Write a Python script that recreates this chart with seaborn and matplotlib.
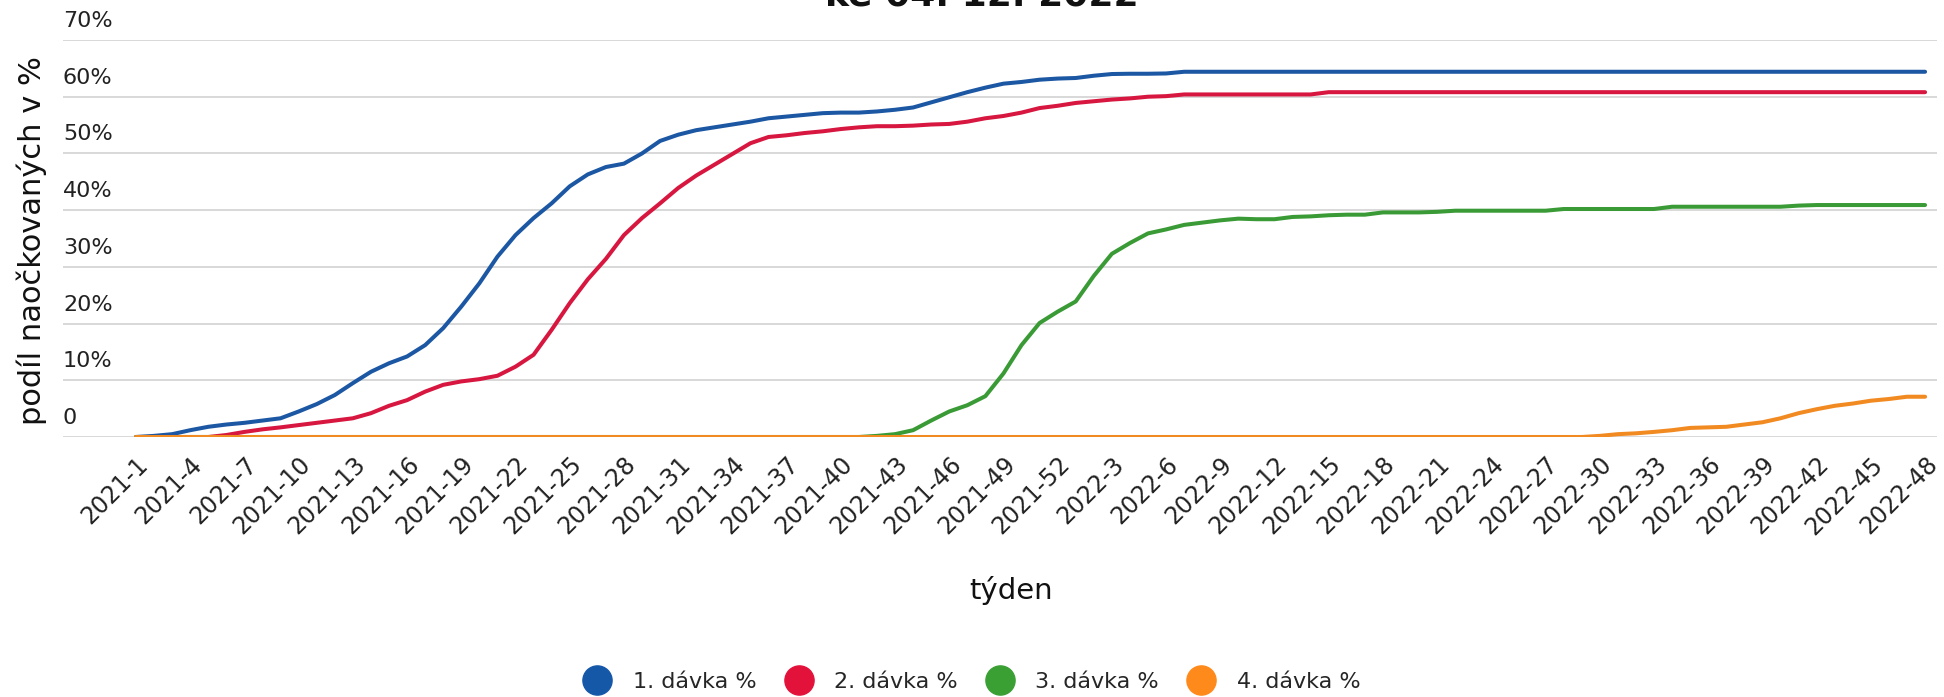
import matplotlib
matplotlib.use("Agg")
import matplotlib.pyplot as plt
import matplotlib.transforms as mtransforms
from matplotlib.lines import Line2D
import seaborn as sns
import pandas as pd

# ---------------- data ----------------
years_weeks = [(2021, 52), (2022, 48)]
weeks = [f"{y}-{w}" for y, n in years_weeks for w in range(1, n + 1)]

series_names = ["1. dávka %", "2. dávka %", "3. dávka %", "4. dávka %"]

dose1 = [0.0, 0.2, 0.5, 1.2, 1.8, 2.2, 2.5, 2.9, 3.3, 4.5,
         5.8, 7.4, 9.5, 11.5, 13.0, 14.2, 16.2, 19.2, 23.0, 27.1,
         31.8, 35.6, 38.6, 41.2, 44.2, 46.3, 47.6, 48.2, 50.0, 52.2,
         53.3, 54.1, 54.6, 55.1, 55.6, 56.2, 56.5, 56.8, 57.1, 57.2,
         57.2, 57.4, 57.7, 58.1, 59.0, 59.9, 60.8, 61.6, 62.3, 62.6,
         63.0, 63.2, 63.3, 63.7, 64.0, 64.05, 64.05, 64.1, 64.4, 64.4,
         64.4, 64.4, 64.4, 64.4, 64.4, 64.4, 64.4, 64.4, 64.4, 64.4,
         64.4, 64.4, 64.4, 64.4, 64.4, 64.4, 64.4, 64.4, 64.4, 64.4,
         64.4, 64.4, 64.4, 64.4, 64.4, 64.4, 64.4, 64.4, 64.4, 64.4,
         64.4, 64.4, 64.4, 64.4, 64.4, 64.4, 64.4, 64.4, 64.4, 64.4]

dose2 = [0.0, 0.0, 0.0, 0.0, 0.0, 0.35, 0.9, 1.35, 1.7, 2.1,
         2.5, 2.9, 3.3, 4.2, 5.5, 6.5, 8.0, 9.2, 9.8, 10.2,
         10.8, 12.4, 14.5, 18.9, 23.6, 27.8, 31.4, 35.6, 38.6, 41.2,
         43.9, 46.1, 48.0, 49.9, 51.8, 52.9, 53.2, 53.6, 53.9, 54.3,
         54.6, 54.8, 54.8, 54.9, 55.1, 55.2, 55.6, 56.2, 56.6, 57.2,
         58.0, 58.4, 58.9, 59.2, 59.5, 59.7, 60.0, 60.1, 60.4, 60.4,
         60.4, 60.4, 60.4, 60.4, 60.4, 60.4, 60.8, 60.8, 60.8, 60.8,
         60.8, 60.8, 60.8, 60.8, 60.8, 60.8, 60.8, 60.8, 60.8, 60.8,
         60.8, 60.8, 60.8, 60.8, 60.8, 60.8, 60.8, 60.8, 60.8, 60.8,
         60.8, 60.8, 60.8, 60.8, 60.8, 60.8, 60.8, 60.8, 60.8, 60.8]

dose3 = [0.0, 0.0, 0.0, 0.0, 0.0, 0.0, 0.0, 0.0, 0.0, 0.0,
         0.0, 0.0, 0.0, 0.0, 0.0, 0.0, 0.0, 0.0, 0.0, 0.0,
         0.0, 0.0, 0.0, 0.0, 0.0, 0.0, 0.0, 0.0, 0.0, 0.0,
         0.0, 0.0, 0.0, 0.0, 0.0, 0.0, 0.0, 0.0, 0.0, 0.0,
         0.0, 0.2, 0.5, 1.2, 2.9, 4.5, 5.6, 7.2, 11.2, 16.2,
         20.1, 22.1, 23.9, 28.4, 32.3, 34.2, 35.9, 36.6, 37.4, 37.8,
         38.2, 38.5, 38.4, 38.4, 38.8, 38.9, 39.1, 39.2, 39.2, 39.6,
         39.6, 39.6, 39.7, 39.9, 39.9, 39.9, 39.9, 39.9, 39.9, 40.2,
         40.2, 40.2, 40.2, 40.2, 40.2, 40.6, 40.6, 40.6, 40.6, 40.6,
         40.6, 40.6, 40.8, 40.9, 40.9, 40.9, 40.9, 40.9, 40.9, 40.9]

dose4 = [0.0, 0.0, 0.0, 0.0, 0.0, 0.0, 0.0, 0.0, 0.0, 0.0,
         0.0, 0.0, 0.0, 0.0, 0.0, 0.0, 0.0, 0.0, 0.0, 0.0,
         0.0, 0.0, 0.0, 0.0, 0.0, 0.0, 0.0, 0.0, 0.0, 0.0,
         0.0, 0.0, 0.0, 0.0, 0.0, 0.0, 0.0, 0.0, 0.0, 0.0,
         0.0, 0.0, 0.0, 0.0, 0.0, 0.0, 0.0, 0.0, 0.0, 0.0,
         0.0, 0.0, 0.0, 0.0, 0.0, 0.0, 0.0, 0.0, 0.0, 0.0,
         0.0, 0.0, 0.0, 0.0, 0.0, 0.0, 0.0, 0.0, 0.0, 0.0,
         0.0, 0.0, 0.0, 0.0, 0.0, 0.0, 0.0, 0.0, 0.0, 0.0,
         0.0, 0.2, 0.5, 0.65, 0.9, 1.2, 1.6, 1.7, 1.8, 2.2,
         2.6, 3.3, 4.2, 4.9, 5.5, 5.9, 6.4, 6.7, 7.1, 7.1]

y_ticks = [0, 10, 20, 30, 40, 50, 60, 70]
y_tick_labels = ["0", "10%", "20%", "30%", "40%", "50%", "60%", "70%"]

line_colors = ["#1c57a3", "#d7173f", "#3a9b36", "#f28a22"]
legend_colors = ["#1558a8", "#e3123b", "#3aa034", "#ff8a1c"]

title_text = "ke 04. 12. 2022"
x_label = "týden"
y_label = "podíl naočkovaných v %"

# ---------------- figure ----------------
sns.set_theme(style="white")
plt.rcParams["font.family"] = ["DejaVu Sans"]

W, H = 1944, 697
fig = plt.figure(figsize=(W / 100, H / 100), dpi=100)
ax = fig.add_axes([63 / W, 260 / H, 1874 / W, 397 / H])

df = pd.DataFrame({
    "week": weeks * 4,
    "value": dose1 + dose2 + dose3 + dose4,
    "series": sum([[s] * len(weeks) for s in series_names], []),
})

sns.lineplot(data=df, x="week", y="value", hue="series", hue_order=series_names,
             palette=line_colors, linewidth=2.9, legend=False, ax=ax, sort=False)

ax.set_ylim(0, 70)
ax.set_xlim(-4.04, 99.66)

# grid
ax.set_yticks(y_ticks)
ax.yaxis.grid(True, color="#d2d2d2", linewidth=1.2)
ax.xaxis.grid(False)
ax.set_axisbelow(True)
for sp in ax.spines.values():
    sp.set_visible(False)
ax.tick_params(axis="y", length=0, labelleft=False)

# y tick labels placed above grid lines
trans = mtransforms.offset_copy(ax.get_yaxis_transform(), fig=fig, x=0, y=9, units="dots")
for v, lab in zip(y_ticks, y_tick_labels):
    ax.text(0.0, v, lab, transform=trans, ha="left", va="bottom",
            fontsize=16, color="#222222")

# x ticks
ax.set_xticks(list(range(0, len(weeks), 3)))
ax.set_xticklabels(weeks[::3], rotation=45, ha="right", rotation_mode="anchor",
                   fontsize=17, color="#222222")
ax.tick_params(axis="x", length=0, pad=11)

# axis labels
ax.set_xlabel(x_label, fontsize=21, color="#111111")
ax.xaxis.set_label_coords(0.506, -0.387)
ax.xaxis.label.set_va("center")
ax.set_ylabel(y_label, fontsize=22, color="#111111")
ax.yaxis.set_label_coords(-0.0165, 0.494)
ax.yaxis.label.set_va("center")
ax.yaxis.label.set_ha("center")

# title (partially cut at top, as in the original)
fig.text(982 / W, 1 - 6 / H, title_text, ha="center", va="baseline",
         fontsize=26, fontweight="bold", color="#111111")

# legend
handles = [Line2D([0], [0], marker="o", linestyle="none", markersize=21,
                  markerfacecolor=c, markeredgecolor=c) for c in legend_colors]
fig.legend(handles, series_names, loc="center", bbox_to_anchor=(0.4995, 1 - 682 / H),
           ncol=4, frameon=False, fontsize=16, handlelength=1.4,
           handletextpad=0.9, columnspacing=1.2, borderpad=0.1)

fig.savefig("out.png", dpi=100, facecolor="white")
